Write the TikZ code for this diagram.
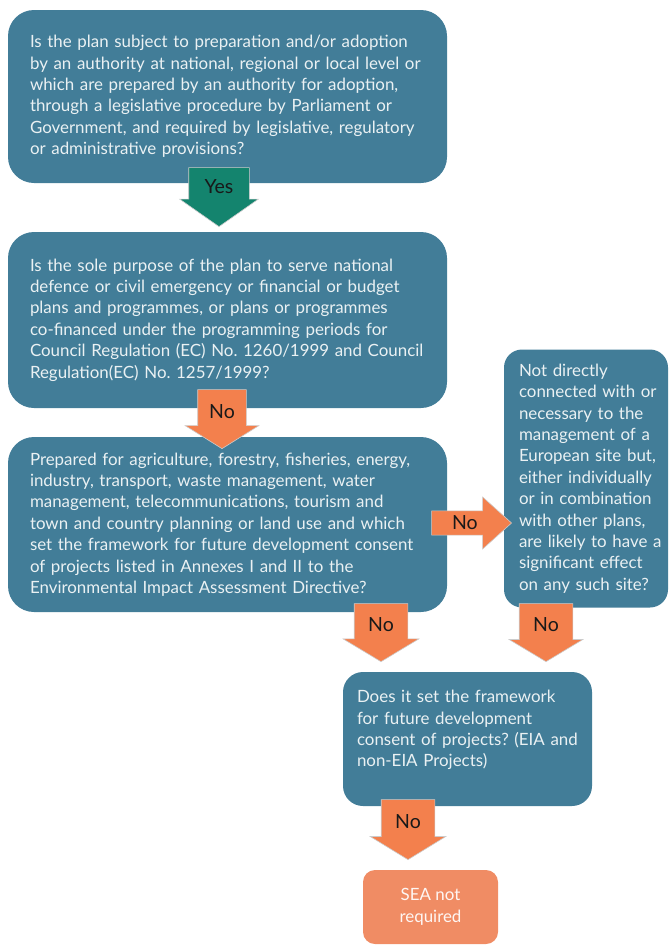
\documentclass[tikz,border=0pt]{standalone}
\usepackage{fontspec}
\setmainfont{Lato}
\frenchspacing
\usetikzlibrary{positioning, calc, shapes.arrows}
\definecolor{boxblue}{RGB}{66,125,152}
\definecolor{noorange}{RGB}{243,128,77}
\definecolor{yesgreen}{RGB}{20,132,110}
\definecolor{endsalmon}{RGB}{240,140,100}
\definecolor{boxtext}{RGB}{234,241,243}
\tikzstyle{BlockArrow} = [
%Fat arrow, pointing down unless rotated:
single arrow, shape border rotate=270,
inner sep=0pt, align=center, text=black!90,
draw=white!80!black, line width=0.6pt,
font=\fontsize{19.5}{20}\selectfont
]

\begin{document}
\begin{tikzpicture}[x=1pt, y=-1pt,
		question/.style = {rectangle, rounded corners=26pt, fill=boxblue, text=boxtext, align=left, inner xsep=14pt, inner ysep=0pt, font=\fontsize{16.9}{21.4}\selectfont, execute at begin node={\leftskip=#1\relax}, execute at end node={\endgraf}},
		question/.default = 8pt,
		result/.style = {rectangle, rounded corners=12pt, fill=endsalmon, text=white!92!endsalmon, align=center, inner sep=0pt, font=\fontsize{16.9}{21.4}\selectfont},
		noarrow/.style = {BlockArrow, fill=noorange},
		yesarrow/.style = {BlockArrow, fill=yesgreen},
	]
	\useasboundingbox (0,0) rectangle (669,945);

	\node[question, minimum width=439pt, minimum height=173pt, text width=411pt](Q1) at (227.5,96.5){Is the plan subject to preparation and/or adoption\\ by an authority at national, regional or local level or\\ which are prepared by an authority for adoption,\\ through a legislative procedure by Parliament or\\ Government, and required by legislative, regulatory\\ or administrative provisions?};
	\node[question, minimum width=439pt, minimum height=176pt, text width=411pt](Q2) at (227.5,320){Is the sole purpose of the plan to serve national\\ defence or civil emergency or financial or budget\\ plans and programmes, or plans or programmes\\ co-financed under the programming periods for\\ Council Regulation (EC) No. 1260/1999 and Council\\ Regulation(EC) No. 1257/1999?};
	\node[question, minimum width=439pt, minimum height=175pt, text width=411pt](Q3) at (227.5,524.5){Prepared for agriculture, forestry, fisheries, energy,\\ industry, transport, waste management, water\\ management, telecommunications, tourism and\\ town and country planning or land use and which\\ set the framework for future development consent\\ of projects listed in Annexes I and II to the\\ Environmental Impact Assessment Directive?};
	\node[question=11pt, rounded corners=18pt, inner xsep=4pt, minimum width=164pt, minimum height=258pt, text width=156pt](Q4) at (586,478.5){Not directly\\ connected with or\\ necessary to the\\ management of a\\ European site but,\\ either individually\\ or in combination\\ with other plans,\\ are likely to have a\\ significant effect\\ on any such site?};
	\node[question=10pt, rounded corners=20pt, inner xsep=4pt, minimum width=249pt, minimum height=134pt, text width=241pt](Q5) at (467.5,739){Does it set the framework\\ for future development\\ consent of projects? (EIA and\\ non-EIA Projects)\rule[-21pt]{0pt}{0pt}};
	\node[result, minimum width=135pt, minimum height=74pt](SEA) at (430.5,907){SEA not\\ required};

	\node[yesarrow, anchor=tip, text width=60pt, minimum width=78pt, minimum height=59pt, single arrow head extend=9pt, single arrow tip angle=110](A1) at (219,227){Yes};
	\node[noarrow, anchor=tip, text width=48pt, minimum width=73pt, minimum height=59pt, single arrow head extend=12.5pt, single arrow tip angle=116](A2) at (222,449){No};
	\node[noarrow, anchor=tip, shape border rotate=0, text width=51pt, minimum width=52pt, minimum height=80pt, single arrow head extend=8.5pt, single arrow tip angle=84](A3) at (512,523){No};
	\node[noarrow, anchor=tip, text width=53pt, minimum width=75pt, minimum height=58pt, single arrow head extend=11pt, single arrow tip angle=118](A4) at (381,662){No};
	\node[noarrow, anchor=tip, text width=53pt, minimum width=73pt, minimum height=58pt, single arrow head extend=10pt, single arrow tip angle=118](A5) at (546,662){No};
	\node[noarrow, anchor=tip, text width=53pt, minimum width=75pt, minimum height=60pt, single arrow head extend=11pt, single arrow tip angle=117](A6) at (408,860){No};

\end{tikzpicture}
\end{document}
